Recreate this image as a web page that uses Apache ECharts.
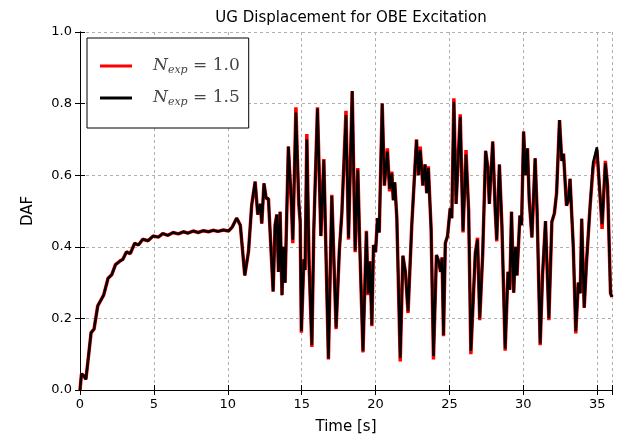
<!DOCTYPE html>
<html>
<head>
<meta charset="utf-8">
<script src="https://cdn.jsdelivr.net/npm/echarts@6/dist/echarts.min.js"></script>
<style>html,body{margin:0;padding:0;background:#fff;}#c{width:622px;height:440px;}</style>
</head>
<body>
<div id="c"></div>
<script>
const chartTitle = 'UG Displacement for OBE Excitation';
const xTitle = 'Time [s]';
const yTitle = 'DAF';
const seriesNames = ['N_exp = 1.0', 'N_exp = 1.5'];
const xTicks = [0, 5, 10, 15, 20, 25, 30, 35];
const yTicks = [0.0, 0.2, 0.4, 0.6, 0.8, 1.0];

const time = [
  0, 0.1, 0.25, 0.4, 0.55, 0.75, 0.95, 1.2, 1.4, 1.6, 1.9, 2.15, 2.4, 2.7, 2.9, 3.15, 3.4, 3.7, 3.95, 4.25,
  4.6, 4.95, 5.3, 5.6, 5.95, 6.3, 6.65, 7.0, 7.3, 7.65, 8.0, 8.35, 8.7, 9.0, 9.35, 9.7, 10.05, 10.3, 10.6, 10.85,
  11.15, 11.4, 11.62, 11.85, 12.03, 12.2, 12.3, 12.45, 12.6, 12.75, 13.07, 13.2, 13.32, 13.43, 13.54, 13.67, 13.77, 13.88, 14.1, 14.3,
  14.4, 14.61, 14.8, 14.9, 14.98, 15.15, 15.23, 15.35, 15.5, 15.69, 15.82, 16.07, 16.3, 16.5, 16.81, 17.04, 17.33, 17.55, 17.72, 18.0,
  18.17, 18.42, 18.62, 18.8, 18.92, 19.15, 19.38, 19.5, 19.62, 19.75, 19.86, 20.0, 20.13, 20.25, 20.45, 20.6, 20.8, 20.95, 21.1, 21.2,
  21.3, 21.44, 21.67, 21.85, 22.02, 22.2, 22.45, 22.77, 22.9, 23.02, 23.2, 23.35, 23.46, 23.57, 23.76, 23.92, 24.12, 24.27, 24.4, 24.5,
  24.6, 24.72, 24.87, 25.05, 25.16, 25.3, 25.45, 25.73, 25.92, 26.12, 26.3, 26.45, 26.75, 26.9, 27.05, 27.25, 27.45, 27.6, 27.7, 27.93,
  28.1, 28.2, 28.38, 28.55, 28.77, 28.96, 29.08, 29.2, 29.35, 29.47, 29.57, 29.77, 29.88, 30.02, 30.15, 30.28, 30.4, 30.58, 30.8, 30.93,
  31.14, 31.3, 31.5, 31.73, 31.93, 32.1, 32.25, 32.45, 32.6, 32.72, 32.92, 33.05, 33.16, 33.38, 33.55, 33.72, 33.85, 33.95, 34.12, 34.28,
  34.52, 34.72, 34.98, 35.18, 35.33, 35.55, 35.7, 35.9, 36.0
];

const dafExp15 = [
  0.0, 0.045, 0.04, 0.03, 0.085, 0.16, 0.17, 0.235, 0.25, 0.265, 0.312, 0.322, 0.35, 0.36, 0.365, 0.386, 0.381, 0.41, 0.405, 0.421,
  0.417, 0.43, 0.427, 0.437, 0.432, 0.44, 0.436, 0.442, 0.438, 0.444, 0.44, 0.445, 0.442, 0.446, 0.443, 0.447, 0.444, 0.455, 0.48, 0.46,
  0.32, 0.386, 0.517, 0.582, 0.49, 0.52, 0.465, 0.577, 0.535, 0.535, 0.275, 0.46, 0.49, 0.33, 0.498, 0.265, 0.4, 0.3, 0.68, 0.53,
  0.42, 0.775, 0.535, 0.47, 0.165, 0.365, 0.335, 0.7, 0.355, 0.126, 0.445, 0.786, 0.43, 0.642, 0.088, 0.542, 0.175, 0.39, 0.495, 0.768,
  0.425, 0.835, 0.39, 0.615, 0.42, 0.11, 0.442, 0.27, 0.358, 0.182, 0.405, 0.385, 0.48, 0.44, 0.8, 0.573, 0.666, 0.562, 0.605, 0.53,
  0.58, 0.48, 0.09, 0.375, 0.33, 0.22, 0.46, 0.698, 0.6, 0.67, 0.573, 0.63, 0.55, 0.62, 0.45, 0.095, 0.377, 0.36, 0.33, 0.37,
  0.154, 0.41, 0.43, 0.507, 0.48, 0.805, 0.52, 0.763, 0.445, 0.658, 0.5, 0.11, 0.382, 0.42, 0.2, 0.38, 0.668, 0.62, 0.52, 0.694,
  0.5, 0.42, 0.63, 0.46, 0.116, 0.33, 0.28, 0.498, 0.272, 0.4, 0.32, 0.487, 0.46, 0.722, 0.6, 0.675, 0.53, 0.426, 0.647, 0.5,
  0.13, 0.32, 0.472, 0.2, 0.47, 0.493, 0.55, 0.754, 0.64, 0.66, 0.515, 0.53, 0.59, 0.4, 0.165, 0.3, 0.27, 0.478, 0.23, 0.36,
  0.515, 0.635, 0.678, 0.55, 0.463, 0.633, 0.57, 0.27, 0.26
];

const dafExp10 = [
  0.0, 0.045, 0.04, 0.03, 0.085, 0.16, 0.17, 0.235, 0.25, 0.265, 0.312, 0.322, 0.35, 0.36, 0.365, 0.386, 0.381, 0.41, 0.405, 0.421,
  0.417, 0.43, 0.427, 0.437, 0.432, 0.44, 0.436, 0.442, 0.438, 0.444, 0.44, 0.445, 0.442, 0.446, 0.443, 0.447, 0.444, 0.455, 0.48, 0.46,
  0.32, 0.386, 0.517, 0.582, 0.49, 0.52, 0.465, 0.577, 0.535, 0.535, 0.275, 0.46, 0.49, 0.33, 0.498, 0.265, 0.4, 0.3, 0.68, 0.52,
  0.41, 0.79, 0.52, 0.47, 0.16, 0.365, 0.335, 0.715, 0.355, 0.12, 0.445, 0.79, 0.43, 0.645, 0.085, 0.545, 0.17, 0.39, 0.495, 0.78,
  0.42, 0.835, 0.385, 0.62, 0.42, 0.105, 0.445, 0.265, 0.36, 0.178, 0.405, 0.385, 0.48, 0.44, 0.8, 0.57, 0.675, 0.555, 0.61, 0.53,
  0.58, 0.48, 0.08, 0.375, 0.33, 0.215, 0.46, 0.7, 0.6, 0.68, 0.57, 0.63, 0.55, 0.625, 0.45, 0.085, 0.377, 0.36, 0.33, 0.37,
  0.15, 0.41, 0.43, 0.507, 0.48, 0.815, 0.52, 0.77, 0.44, 0.67, 0.5, 0.1, 0.382, 0.425, 0.195, 0.38, 0.668, 0.62, 0.52, 0.694,
  0.5, 0.415, 0.63, 0.46, 0.11, 0.33, 0.28, 0.498, 0.272, 0.4, 0.32, 0.487, 0.46, 0.722, 0.6, 0.675, 0.53, 0.426, 0.647, 0.5,
  0.125, 0.32, 0.472, 0.195, 0.47, 0.493, 0.55, 0.754, 0.64, 0.66, 0.515, 0.53, 0.59, 0.4, 0.158, 0.3, 0.27, 0.478, 0.23, 0.36,
  0.515, 0.62, 0.67, 0.55, 0.45, 0.64, 0.57, 0.27, 0.26
];

const pairs = (ys) => time.map((t, i) => [t, ys[i]]);
const fontMain = 'DejaVu Sans';

const chart = echarts.init(document.getElementById('c'), null, {renderer: 'canvas'});
const gridLine = {show: true, lineStyle: {color: '#b0b0b0', type: [3, 3], width: 1}};
const tickStyle = {show: true, inside: true, length: 5, lineStyle: {color: '#000', width: 1}};

chart.setOption({
  animation: false,
  backgroundColor: '#fff',
  title: {
    text: chartTitle, left: 346, top: 6, textAlign: 'center',
    textStyle: {fontFamily: fontMain, fontSize: 15, fontWeight: 'normal', color: '#000'}
  },
  grid: {left: 80, right: 10, top: 32, bottom: 50},
  legend: {
    orient: 'vertical', left: 87, top: 38,
    backgroundColor: '#fff', borderColor: '#000', borderWidth: 1, borderRadius: 0,
    padding: [18, 9, 20, 13], itemGap: 12,
    itemWidth: 32, itemHeight: 3, icon: 'rect',
    data: seriesNames,
    formatter: (name) => {
      const val = name.split('= ')[1];
      return '{n|N}{s|exp}{e| = ' + val + '}';
    },
    textStyle: {
      padding: [0, 0, 0, 16],
      rich: {
        n: {fontFamily: 'DejaVu Serif', fontStyle: 'italic', fontSize: 17, color: '#444', lineHeight: 22},
        s: {fontFamily: 'DejaVu Serif', fontStyle: 'italic', fontSize: 11, color: '#444', padding: [9, 0, 0, 0], lineHeight: 22},
        e: {fontFamily: 'DejaVu Serif', fontSize: 17, color: '#444', lineHeight: 22}
      }
    }
  },
  xAxis: [{
    type: 'value', min: 0, max: 36, interval: 5,
    name: xTitle, nameLocation: 'middle', nameGap: 30,
    nameTextStyle: {fontFamily: fontMain, fontSize: 15, color: '#000'},
    axisLine: {show: true, lineStyle: {color: '#000', width: 1}},
    axisTick: tickStyle,
    axisLabel: {fontFamily: fontMain, fontSize: 13, color: '#000', margin: 8,
      formatter: (v) => xTicks.includes(v) ? String(v) : ''},
    splitLine: gridLine
  }, {
    type: 'value', min: 0, max: 36, interval: 5, position: 'top',
    axisLine: {show: true, lineStyle: {color: '#000', width: 1}},
    axisTick: tickStyle, axisLabel: {show: false}, splitLine: {show: false}
  }],
  yAxis: [{
    type: 'value', min: 0, max: 1, interval: 0.2,
    name: yTitle, nameLocation: 'middle', nameGap: 44, nameRotate: 90,
    nameTextStyle: {fontFamily: fontMain, fontSize: 15, color: '#000'},
    axisLine: {show: true, lineStyle: {color: '#000', width: 1}},
    axisTick: tickStyle,
    axisLabel: {fontFamily: fontMain, fontSize: 13, color: '#000', margin: 8,
      formatter: (v) => {
        const m = yTicks.find(t => Math.abs(t - v) < 1e-9);
        return m === undefined ? '' : m.toFixed(1);
      }},
    splitLine: gridLine
  }, {
    type: 'value', min: 0, max: 1, interval: 0.2, position: 'right',
    axisLine: {show: true, lineStyle: {color: '#000', width: 1}},
    axisTick: tickStyle, axisLabel: {show: false}, splitLine: {show: false}
  }],
  series: [{
    name: seriesNames[0], type: 'line', data: pairs(dafExp10),
    showSymbol: false, symbol: 'none', color: '#ff0000',
    lineStyle: {color: '#ff0000', width: 3.5}, clip: true, z: 2
  }, {
    name: seriesNames[1], type: 'line', data: pairs(dafExp15),
    showSymbol: false, symbol: 'none', color: '#000000',
    lineStyle: {color: '#000000', width: 2.5}, clip: true, z: 3
  }]
});
</script>
</body>
</html>
